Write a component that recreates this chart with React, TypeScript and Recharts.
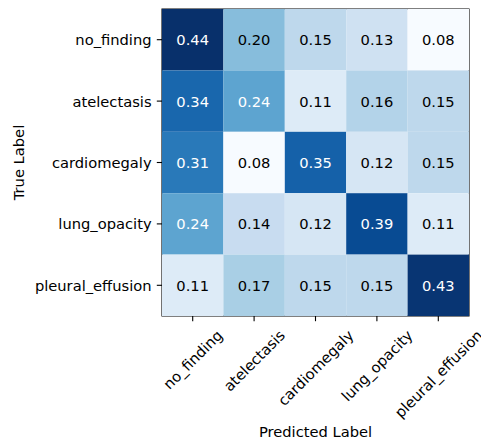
import React from 'react';
import { ScatterChart, Scatter, XAxis, YAxis, ReferenceArea, Label } from 'recharts';

const CLASS_LABELS = ['no_finding', 'atelectasis', 'cardiomegaly', 'lung_opacity', 'pleural_effusion'];
const ROW_NO_FINDING = [0.44, 0.20, 0.15, 0.13, 0.08];
const ROW_ATELECTASIS = [0.34, 0.24, 0.11, 0.16, 0.15];
const ROW_CARDIOMEGALY = [0.31, 0.08, 0.35, 0.12, 0.15];
const ROW_LUNG_OPACITY = [0.24, 0.14, 0.12, 0.39, 0.11];
const ROW_PLEURAL_EFFUSION = [0.11, 0.17, 0.15, 0.15, 0.43];
const ROWS = [ROW_NO_FINDING, ROW_ATELECTASIS, ROW_CARDIOMEGALY, ROW_LUNG_OPACITY, ROW_PLEURAL_EFFUSION];
const TICKS = [0, 1, 2, 3, 4];

const ALL = ROWS.flat();
const VMIN = Math.min(...ALL);
const VMAX = Math.max(...ALL);
const THRESH = VMAX / 2;

const cells = ROWS.flatMap((row, r) => row.map((v, c) => ({ x: c, y: r, v })));

const W = 481;
const H = 439;
const PLOT_LEFT = 162;
const PLOT_TOP = 9;
const PLOT_W = 307;
const PLOT_H = 307;
const CELL_W = PLOT_W / CLASS_LABELS.length;
const CELL_H = PLOT_H / CLASS_LABELS.length;
const FONT = "'DejaVu Sans', sans-serif";
const FS = 14.7;
const TICK_LEN = 5.2;
const PAD = 5.2;

const BLUES = ['#f7fbff', '#deebf7', '#c6dbef', '#9ecae1', '#6baed6', '#4292c6', '#2171b5', '#08519c', '#08306b'];

function hexToRgb(h: string) {
  return [parseInt(h.slice(1, 3), 16), parseInt(h.slice(3, 5), 16), parseInt(h.slice(5, 7), 16)];
}

function blues(v: number) {
  let t = (Math.sqrt(v) - Math.sqrt(VMIN)) / (Math.sqrt(VMAX) - Math.sqrt(VMIN));
  t = Math.max(0, Math.min(1, t));
  const pos = t * (BLUES.length - 1);
  const i = Math.min(Math.floor(pos), BLUES.length - 2);
  const f = pos - i;
  const a = hexToRgb(BLUES[i]);
  const b = hexToRgb(BLUES[i + 1]);
  const c = a.map((x, k) => Math.round(x + (b[k] - x) * f));
  return `rgb(${c[0]},${c[1]},${c[2]})`;
}

let ctx: CanvasRenderingContext2D | null = null;
function textWidth(s: string) {
  if (!ctx) {
    const cv = document.createElement('canvas');
    ctx = cv.getContext('2d');
  }
  if (!ctx) return s.length * FS * 0.55;
  ctx.font = `${FS}px 'DejaVu Sans'`;
  return ctx.measureText(s).width;
}

const CellShape = (props: any) => {
  const { cx, cy, payload } = props;
  const v = payload.v;
  return (
    <g>
      <rect x={cx - CELL_W / 2} y={cy - CELL_H / 2} width={CELL_W} height={CELL_H} fill={blues(v)} />
      <text
        x={cx}
        y={cy}
        textAnchor="middle"
        dominantBaseline="central"
        fontFamily={FONT}
        fontSize={FS}
        fill={v > THRESH ? '#ffffff' : '#000000'}
      >
        {v.toFixed(2)}
      </text>
    </g>
  );
};

const XTick = (props: any) => {
  const { x, payload } = props;
  const label = CLASS_LABELS[payload.value];
  const w = textWidth(label);
  const h = FS * 1.164;
  const bboxH = (w + h) * Math.SQRT1_2;
  const top = PLOT_TOP + PLOT_H + TICK_LEN + PAD;
  const cy = top + bboxH / 2;
  return (
    <text
      x={x}
      y={cy}
      textAnchor="middle"
      dominantBaseline="central"
      fontFamily={FONT}
      fontSize={FS}
      fill="#000"
      transform={`rotate(-45, ${x}, ${cy})`}
    >
      {label}
    </text>
  );
};

const YTick = (props: any) => {
  const { y, payload } = props;
  const label = CLASS_LABELS[payload.value];
  return (
    <text
      x={PLOT_LEFT - TICK_LEN - PAD}
      y={y}
      textAnchor="end"
      dominantBaseline="central"
      fontFamily={FONT}
      fontSize={FS}
      fill="#000"
    >
      {label}
    </text>
  );
};

export default function App() {
  return (
    <div style={{ position: 'absolute', left: 0, top: 0, width: W, height: H, background: '#fff' }}>
      <ScatterChart
        width={W}
        height={H}
        margin={{ top: PLOT_TOP, right: W - PLOT_LEFT - PLOT_W, bottom: 0, left: 0 }}
      >
        <XAxis
          type="number"
          dataKey="x"
          domain={[-0.5, 4.5]}
          ticks={TICKS}
          interval={0}
          allowDataOverflow
          height={H - PLOT_TOP - PLOT_H}
          axisLine={false}
          tickSize={TICK_LEN}
          tickLine={{ stroke: '#000', strokeWidth: 1.1 }}
          tick={<XTick />}
        >
          <Label
            content={() => (
              <text x={PLOT_LEFT + PLOT_W / 2} y={437} textAnchor="middle" fontFamily={FONT} fontSize={FS} fill="#000">
                Predicted Label
              </text>
            )}
          />
        </XAxis>
        <YAxis
          type="number"
          dataKey="y"
          domain={[-0.5, 4.5]}
          ticks={TICKS}
          interval={0}
          reversed
          allowDataOverflow
          width={PLOT_LEFT}
          axisLine={false}
          tickSize={TICK_LEN}
          tickLine={{ stroke: '#000', strokeWidth: 1.1 }}
          tick={<YTick />}
        >
          <Label
            content={() => (
              <text
                x={23.5}
                y={PLOT_TOP + PLOT_H / 2}
                textAnchor="middle"
                fontFamily={FONT}
                fontSize={FS}
                fill="#000"
                transform={`rotate(-90, 23.5, ${PLOT_TOP + PLOT_H / 2})`}
              >
                True Label
              </text>
            )}
          />
        </YAxis>
        <Scatter data={cells} shape={<CellShape />} isAnimationActive={false} />
        <ReferenceArea
          x1={-0.5}
          x2={4.5}
          y1={-0.5}
          y2={4.5}
          fill="none"
          fillOpacity={0}
          stroke="#000"
          strokeWidth={1.1}
          ifOverflow="visible"
        />
      </ScatterChart>
    </div>
  );
}
